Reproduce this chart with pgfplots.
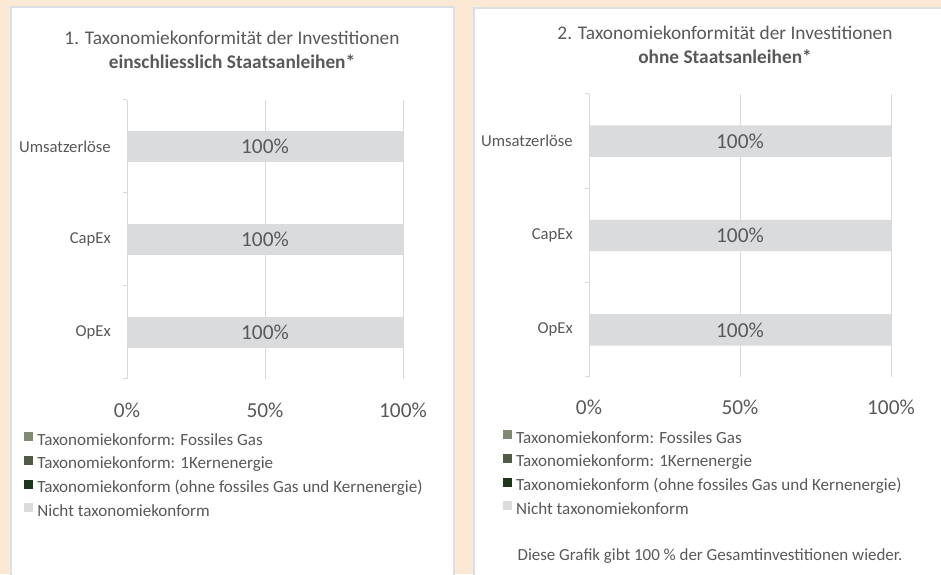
\documentclass[border=0pt]{standalone}
\usepackage{pgfplots}
\pgfplotsset{compat=1.18}
\usepackage{fontspec}
\setmainfont{Carlito}
\definecolor{beige}{HTML}{FBE9D6}
\definecolor{panelborder}{HTML}{DCE0E5}
\definecolor{textgray}{HTML}{595959}
\definecolor{gridgray}{HTML}{D9D9D9}
\definecolor{barfill}{HTML}{DADBDD}
\definecolor{fossil}{HTML}{7F8A72}
\definecolor{kern}{HTML}{505B46}
\definecolor{darkgreen}{HTML}{1C351B}

\pgfplotsset{
  taxo/.style={
    anchor=south west, scale only axis,
    xmin=0, xmax=100, ymin=-0.5, ymax=2.5,
    axis line style={draw=none},
    xtick={0,50,100}, xticklabels={0\%,50\%,100\%},
    xtick style={draw=none},
    xmajorgrids, grid style={draw=gridgray, line width=0.75pt},
    xticklabel style={font=\fontsize{16}{18}\selectfont, text=textgray, anchor=base},
    ytick={-0.5,0.5,1.5,2.5}, yticklabels={},
    ytick pos=left,
    ytick style={draw=gridgray, line width=0.75pt},
    tick align=outside, major tick length=3pt,
    extra y ticks={0,1,2},
    extra y tick labels={OpEx,CapEx,Umsatzerlöse},
    extra y tick style={major tick length=0pt, grid=none,
      yticklabel style={font=\fontsize{12.5}{14}\selectfont, text=textgray, anchor=east, inner sep=0pt, xshift=-12pt}},
    legend cell align=left,
    legend style={draw=none, fill=none, inner sep=0pt, anchor=north west,
      font=\fontsize{12.8}{15}\selectfont, text=textgray,
      row sep=5pt,
      nodes={inner xsep=3pt, inner ysep=0pt, text height=9pt, text depth=3pt}},
    legend image code/.code={\fill[##1] (0pt,0pt) rectangle (6.75pt,6.75pt);},
    every node near coord/.append style={anchor=center, font=\fontsize{16}{18}\selectfont, text=textgray},
  },
  databar/.style={xbar, bar width=0.333, bar shift=0pt, draw=none},
}

\pgfplotstableread{
y  gas kern taxo nicht
0  0   0    0    100
1  0   0    0    100
2  0   0    0    100
}\dataA
\pgfplotstableread{
y  gas kern taxo nicht
0  0   0    0    100
1  0   0    0    100
2  0   0    0    100
}\dataB

\begin{document}
\begin{tikzpicture}
\useasboundingbox (0,0) rectangle (705.75pt,430.5pt);
\fill[beige] (0,0) rectangle (705.75pt,430.5pt);
\filldraw[fill=white, draw=panelborder, line width=0.9pt] (8.25pt,-5pt) rectangle (340.5pt,425.25pt);
\filldraw[fill=white, draw=panelborder, line width=0.9pt] (355.5pt,-5pt) rectangle (712pt,424.5pt);

\node[align=center, text=textgray, font=\fontsize{14.5}{18}\selectfont] at (174pt,393pt)
  {1. Taxonomiekonformität der Investitionen\\\textbf{einschliesslich Staatsanleihen*}};
\node[align=center, text=textgray, font=\fontsize{14.5}{18}\selectfont] at (543.75pt,397pt)
  {2. Taxonomiekonformität der Investitionen\\\textbf{ohne Staatsanleihen*}};

\begin{axis}[taxo,
  at={(95.25pt,146.25pt)}, width=207pt, height=209.25pt,
  xticklabel style={yshift=-26pt},
  legend style={at={(-0.373,-0.19)}}]
\addplot[databar, fill=fossil] table[x=gas, y=y] {\dataA};
\addlegendentry{Taxonomiekonform: Fossiles Gas}
\addplot[databar, fill=kern] table[x=kern, y=y] {\dataA};
\addlegendentry{Taxonomiekonform: 1Kernenergie}
\addplot[databar, fill=darkgreen] table[x=taxo, y=y] {\dataA};
\addlegendentry{Taxonomiekonform (ohne fossiles Gas und Kernenergie)}
\addplot[databar, fill=barfill] table[x=nicht, y=y] {\dataA};
\addlegendentry{Nicht taxonomiekonform}
\addplot[xbar, bar width=0.333, bar shift=0pt, draw=none, fill=none, forget plot,
  nodes near coords, point meta=explicit symbolic]
  coordinates {(50,0) [100\%] (50,1) [100\%] (50,2) [100\%]};
\end{axis}

\begin{axis}[taxo,
  at={(441.75pt,147.75pt)}, width=226.5pt, height=212.25pt,
  xticklabel style={yshift=-25pt},
  legend style={at={(-0.285,-0.187)}}]
\addplot[databar, fill=fossil] table[x=gas, y=y] {\dataB};
\addlegendentry{Taxonomiekonform: Fossiles Gas}
\addplot[databar, fill=kern] table[x=kern, y=y] {\dataB};
\addlegendentry{Taxonomiekonform: 1Kernenergie}
\addplot[databar, fill=darkgreen] table[x=taxo, y=y] {\dataB};
\addlegendentry{Taxonomiekonform (ohne fossiles Gas und Kernenergie)}
\addplot[databar, fill=barfill] table[x=nicht, y=y] {\dataB};
\addlegendentry{Nicht taxonomiekonform}
\addplot[xbar, bar width=0.333, bar shift=0pt, draw=none, fill=none, forget plot,
  nodes near coords, point meta=explicit symbolic]
  coordinates {(50,0) [100\%] (50,1) [100\%] (50,2) [100\%]};
\end{axis}

\node[text=textgray, font=\fontsize{12.7}{15}\selectfont] at (532.5pt,13.5pt)
  {Diese Grafik gibt 100 \% der Gesamtinvestitionen wieder.};
\end{tikzpicture}
\end{document}
